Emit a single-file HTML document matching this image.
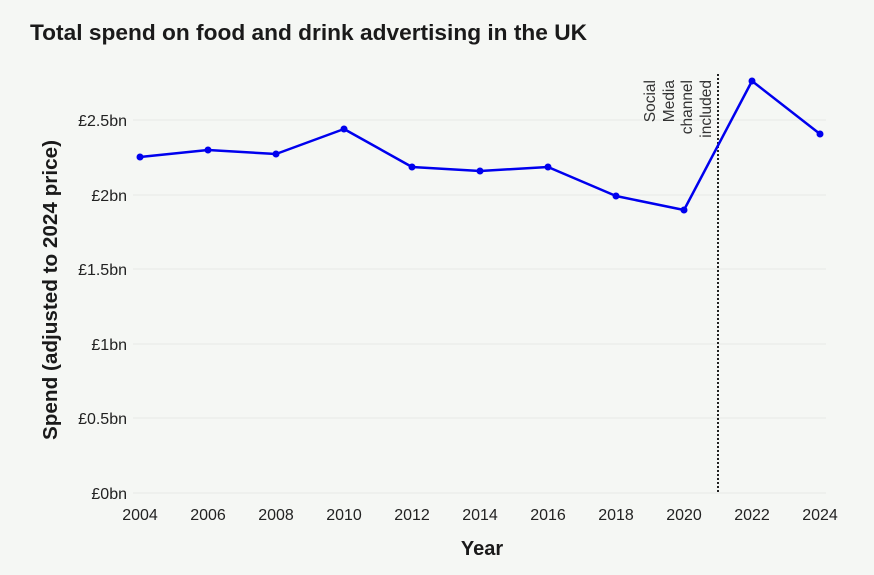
<!DOCTYPE html>
<html><head><style>
body{margin:0;background:#f5f7f4;}
svg{display:block;font-family:"Liberation Sans",sans-serif;}
</style></head><body>
<svg width="874" height="575" viewBox="0 0 874 575">
<rect width="874" height="575" fill="#f5f7f4"/>
<text x="30" y="40" font-size="22" font-weight="bold" fill="#1a1a1a" textLength="557" lengthAdjust="spacingAndGlyphs">Total spend on food and drink advertising in the UK</text>
<g stroke="#e6e8e6" stroke-width="1">
<line x1="133" x2="826" y1="120" y2="120"/>
<line x1="133" x2="826" y1="195" y2="195"/>
<line x1="133" x2="826" y1="269" y2="269"/>
<line x1="133" x2="826" y1="344" y2="344"/>
<line x1="133" x2="826" y1="418" y2="418"/>
<line x1="133" x2="826" y1="493" y2="493"/>
</g>
<g font-size="16" fill="#222" text-anchor="end">
<text x="127" y="126">£2.5bn</text>
<text x="127" y="201">£2bn</text>
<text x="127" y="275">£1.5bn</text>
<text x="127" y="350">£1bn</text>
<text x="127" y="424">£0.5bn</text>
<text x="127" y="499">£0bn</text>
</g>
<g font-size="16" fill="#222" text-anchor="middle">
<text x="140" y="520">2004</text><text x="208" y="520">2006</text><text x="276" y="520">2008</text>
<text x="344" y="520">2010</text><text x="412" y="520">2012</text><text x="480" y="520">2014</text>
<text x="548" y="520">2016</text><text x="616" y="520">2018</text><text x="684" y="520">2020</text>
<text x="752" y="520">2022</text><text x="820" y="520">2024</text>
</g>
<text x="482" y="555" font-size="20" font-weight="bold" text-anchor="middle" fill="#1a1a1a">Year</text>
<text transform="translate(57,290) rotate(-90)" font-size="20.5" font-weight="bold" text-anchor="middle" fill="#1a1a1a" textLength="300" lengthAdjust="spacingAndGlyphs">Spend (adjusted to 2024 price)</text>
<line x1="718" y1="74" x2="718" y2="493" stroke="#222" stroke-width="2" stroke-dasharray="2,2"/>
<g font-size="15.5" fill="#333" text-anchor="end">
<text transform="translate(655,80) rotate(-90)">Social</text>
<text transform="translate(674,80) rotate(-90)">Media</text>
<text transform="translate(692,80) rotate(-90)">channel</text>
<text transform="translate(711,80) rotate(-90)">included</text>
</g>
<polyline fill="none" stroke="#0000ee" stroke-width="2.5" stroke-linejoin="round" points="140,157 208,150 276,154 344,129 412,167 480,171 548,167 616,196 684,210 752,81 820,134"/>
<g fill="#0000ee">
<circle cx="140" cy="157" r="3.5"/><circle cx="208" cy="150" r="3.5"/><circle cx="276" cy="154" r="3.5"/>
<circle cx="344" cy="129" r="3.5"/><circle cx="412" cy="167" r="3.5"/><circle cx="480" cy="171" r="3.5"/>
<circle cx="548" cy="167" r="3.5"/><circle cx="616" cy="196" r="3.5"/><circle cx="684" cy="210" r="3.5"/>
<circle cx="752" cy="81" r="3.5"/><circle cx="820" cy="134" r="3.5"/>
</g>
</svg>
</body></html>
